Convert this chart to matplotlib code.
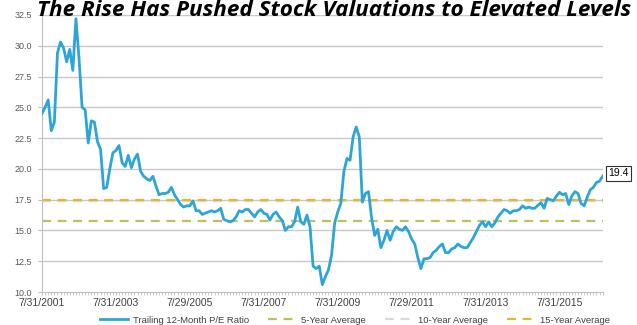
import numpy as np
import matplotlib
matplotlib.use("Agg")
import matplotlib.pyplot as plt

# Trailing 12-month P/E, monthly from 7/31/2001
pe_ratio = [
    24.5, 25.0, 25.6, 23.1, 23.8, 29.4, 30.3, 29.8, 28.7, 29.7,
    28.0, 32.2, 29.0, 25.0, 24.8, 22.1, 23.9, 23.8, 22.2, 21.6,
    18.4, 18.5, 20.0, 21.3, 21.5, 21.9, 20.5, 20.2, 21.1, 20.1,
    20.8, 21.2, 19.8, 19.4, 19.2, 19.05, 19.4, 18.6, 17.9, 18.0,
    18.0, 18.1, 18.5, 17.9, 17.5, 17.1, 16.9, 17.0, 17.0, 17.4,
    16.6, 16.6, 16.3, 16.4, 16.5, 16.6, 16.5, 16.6, 16.8, 15.9,
    15.8, 15.7, 15.8, 16.1, 16.6, 16.5, 16.7, 16.7, 16.4, 16.1,
    16.5, 16.7, 16.4, 16.3, 15.85, 16.3, 16.5, 16.1, 15.8, 15.0,
    15.3, 15.3, 15.7, 16.9, 15.7, 15.5, 16.25, 15.3, 12.1, 11.9,
    12.1, 10.6, 11.25, 11.8, 13.0, 15.6, 16.5, 17.2, 19.8, 20.85,
    20.7, 22.6, 23.4, 22.6, 17.3, 18.0, 18.15, 16.0, 14.6, 15.1,
    13.6, 14.2, 15.0, 14.2, 14.9, 15.3, 15.1, 15.0, 15.3, 14.9,
    14.3, 13.9, 12.8, 11.9, 12.7, 12.7, 12.8, 13.2, 13.4, 13.7,
    13.9, 13.2, 13.2, 13.5, 13.6, 13.9, 13.7, 13.6, 13.6, 14.0,
    14.4, 14.9, 15.4, 15.7, 15.3, 15.7, 15.3, 15.6, 16.1, 16.4,
    16.7, 16.6, 16.4, 16.6, 16.6, 16.7, 17.0, 16.8, 16.9, 16.8,
    16.8, 17.05, 17.25, 16.8, 17.6, 17.5, 17.4, 17.8, 18.1, 17.9,
    18.0, 17.1, 17.8, 18.15, 18.0, 17.2, 17.0, 17.7, 18.3, 18.5,
    18.9, 19.0, 19.4,
]
avg_5yr = 15.8
avg_10yr = 17.4
avg_15yr = 17.5

date_labels = ["7/31/2001", "7/31/2003", "7/29/2005", "7/31/2007",
               "7/31/2009", "7/29/2011", "7/31/2013", "7/31/2015"]
label_every = 24  # months between date labels

legend_names = ["Trailing 12-Month P/E Ratio", "5-Year Average",
                "10-Year Average", "15-Year Average"]

plt.rcParams["font.family"] = ["Liberation Sans", "DejaVu Sans"]

x = np.arange(len(pe_ratio))

fig = plt.figure(figsize=(6.37, 3.25), dpi=100)
ax = fig.add_axes([0.066, 0.1015, 0.881, 0.8525])

for v in np.arange(12.5, 32.6, 2.5):
    ax.axhline(v, color="#c8c8c8", lw=1.0, zorder=0)

ax.plot(x, [avg_10yr] * len(x), color="#d9d9d9", lw=1.6, ls=(0, (4, 3)), zorder=2,
        label=legend_names[2])
ax.plot(x, [avg_5yr] * len(x), color="#bfbf5e", lw=1.6, ls=(0, (4, 3)), zorder=2,
        label=legend_names[1])
ax.plot(x, [avg_15yr] * len(x), color="#e6b631", lw=1.6, ls=(0, (4, 3)), zorder=2,
        label=legend_names[3])
ax.plot(x, pe_ratio, color="#2da5d6", lw=2.0, zorder=3, label=legend_names[0])

ax.set_xlim(0, len(x) - 0.8)
ax.set_ylim(10, 32.5)
ax.set_yticks(np.arange(10, 32.6, 2.5))
ax.set_yticklabels([f"{v:.1f}" for v in np.arange(10, 32.6, 2.5)])
ax.set_xticks(np.arange(0, len(x), label_every))
ax.set_xticklabels(date_labels)
ax.set_xticks(np.arange(0, len(x)), minor=True)

for s in ["top", "right"]:
    ax.spines[s].set_visible(False)
ax.spines["left"].set_color("#bfbfbf")
ax.spines["bottom"].set_color("#bfbfbf")
ax.tick_params(axis="y", labelsize=6.5, colors="#595959", length=3, color="#bfbfbf", pad=4)
ax.tick_params(axis="x", which="major", labelsize=7.5, colors="#404040", length=2,
               color="#bfbfbf", pad=2)
ax.tick_params(axis="x", which="minor", length=2, color="#bfbfbf")

# end value callout
ax.annotate(f"{pe_ratio[-1]:.1f}", xy=(x[-1], pe_ratio[-1]), xytext=(4, 2),
            textcoords="offset points", fontsize=7.5, va="center", ha="left",
            bbox=dict(boxstyle="square,pad=0.2", fc="white", ec="#333333", lw=0.8),
            annotation_clip=False)

handles, labels = ax.get_legend_handles_labels()
order = [3, 1, 0, 2]
fig.legend([handles[i] for i in order], [labels[i] for i in order],
           loc="lower center", bbox_to_anchor=(0.557, -0.025), ncol=4, frameon=False,
           fontsize=6.8, handlelength=3.0, handletextpad=0.5, columnspacing=2.0,
           labelcolor="#404040")

fig.text(0.524, 0.951, "The Rise Has Pushed Stock Valuations to Elevated Levels",
         ha="center", va="baseline", fontsize=16.2, fontweight="bold", style="italic",
         family="Open Sans")

fig.savefig("out.png", dpi=100)
